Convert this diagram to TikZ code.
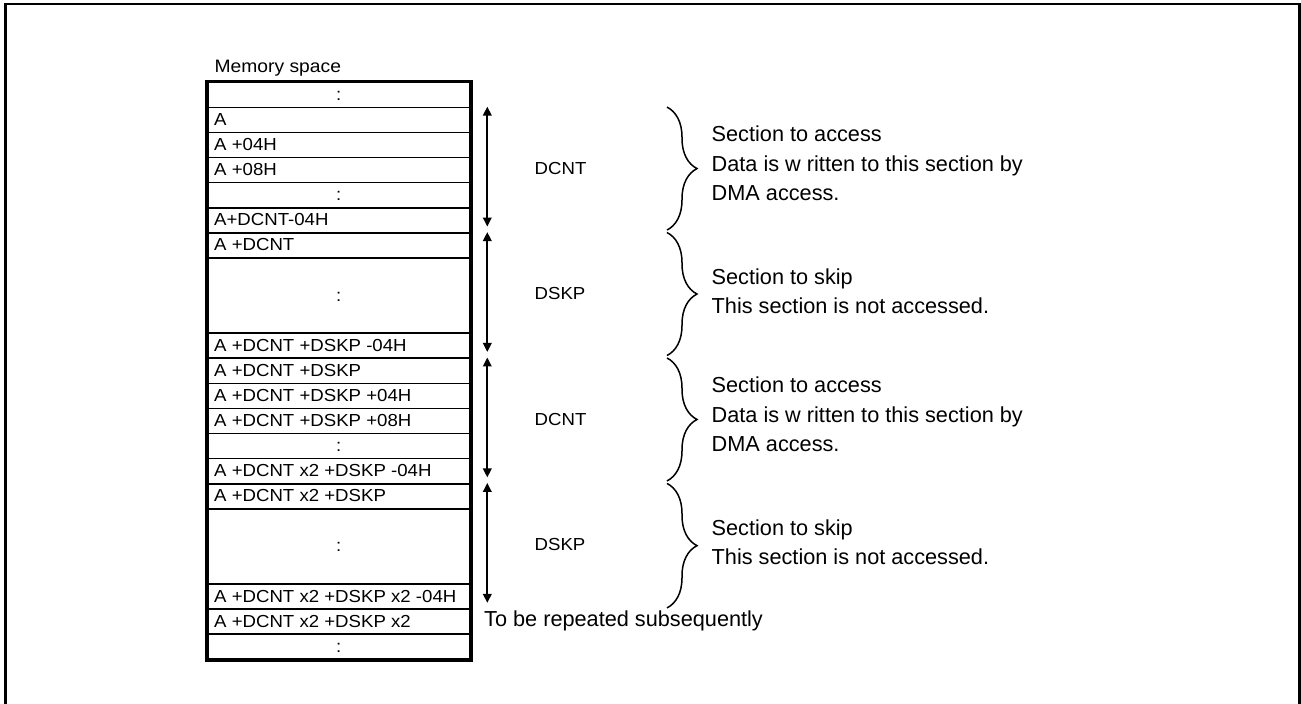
\documentclass[tikz,border=0pt]{standalone}
\usepackage{fontspec}
\setmainfont{Liberation Sans}
\newfontfamily\cellfamily[FakeStretch=1.07]{Liberation Sans}
\newcommand\cellfont{\cellfamily\fontsize{17.4}{20}\selectfont}
\newcommand\memfont{\cellfamily\fontsize{18}{21}\selectfont}
\newcommand\descfont{\fontsize{21.7}{26}\selectfont}
\usetikzlibrary{arrows.meta,decorations.pathreplacing,calc}
\begin{document}
\begin{tikzpicture}[x=1pt,y=-1pt,
  frame/.style={line width=2.3pt},
  cell/.style={draw,line width=1.6pt,minimum width=262pt,minimum height=25.09pt,inner sep=0pt,anchor=north west},
  tallcell/.style={cell,minimum height=75.27pt},
  outer/.style={draw,line width=3.8pt},
  celltext/.style={anchor=base west,inner sep=0pt,font=\cellfont},
  dots/.style={anchor=base,inner sep=0pt,font=\cellfont},
  span/.style={line width=2pt,{Triangle[length=9pt,width=8.5pt]}-{Triangle[length=9pt,width=8.5pt]}},
  sect/.style={line width=1.5pt,decorate,decoration={brace,amplitude=30pt}},
  lbl/.style={anchor=base west,inner sep=0pt,font=\cellfont},
  desc/.style={anchor=base west,inner sep=0pt,font=\descfont}]
\def\u{25.09}
\def\yo{81.5}
\useasboundingbox (0,0) rectangle (1301,704);
% outer frame
\draw[frame] (5.5,704) -- (5.5,4) -- (1299.5,4) -- (1299.5,704);
% title
\node[anchor=base west,inner sep=0pt,font=\memfont] (title) at (214.5,72.7) {Memory space};
% rows
\node[cell] (r0) at (207,{\yo+0*\u}) {};
\node[cell] (r1) at (207,{\yo+1*\u}) {};
\node[cell] (r2) at (207,{\yo+2*\u}) {};
\node[cell] (r3) at (207,{\yo+3*\u}) {};
\node[cell] (r4) at (207,{\yo+4*\u}) {};
\node[cell] (r5) at (207,{\yo+5*\u}) {};
\node[cell] (r6) at (207,{\yo+6*\u}) {};
\node[tallcell] (r7) at (207,{\yo+7*\u}) {};
\node[cell] (r8) at (207,{\yo+10*\u}) {};
\node[cell] (r9) at (207,{\yo+11*\u}) {};
\node[cell] (r10) at (207,{\yo+12*\u}) {};
\node[cell] (r11) at (207,{\yo+13*\u}) {};
\node[cell] (r12) at (207,{\yo+14*\u}) {};
\node[cell] (r13) at (207,{\yo+15*\u}) {};
\node[cell] (r14) at (207,{\yo+16*\u}) {};
\node[tallcell] (r15) at (207,{\yo+17*\u}) {};
\node[cell] (r16) at (207,{\yo+20*\u}) {};
\node[cell] (r17) at (207,{\yo+21*\u}) {};
\node[cell] (r18) at (207,{\yo+22*\u}) {};
\draw[outer] (r0.north west) rectangle (r18.south east);
% row texts
\node[dots] (t0) at ($(r0.center)+(0,5.5)$) {:};
\node[celltext] (t1) at ($(r1.west)+(7,5.5)$) {A};
\node[celltext] (t2) at ($(r2.west)+(7,5.5)$) {A +04H};
\node[celltext] (t3) at ($(r3.west)+(7,5.5)$) {A +08H};
\node[dots] (t4) at ($(r4.center)+(0,5.5)$) {:};
\node[celltext] (t5) at ($(r5.west)+(7,5.5)$) {A+DCNT-04H};
\node[celltext] (t6) at ($(r6.west)+(7,5.5)$) {A +DCNT};
\node[dots] (t7) at ($(r7.center)+(0,5.5)$) {:};
\node[celltext] (t8) at ($(r8.west)+(7,5.5)$) {A +DCNT +DSKP -04H};
\node[celltext] (t9) at ($(r9.west)+(7,5.5)$) {A +DCNT +DSKP};
\node[celltext] (t10) at ($(r10.west)+(7,5.5)$) {A +DCNT +DSKP +04H};
\node[celltext] (t11) at ($(r11.west)+(7,5.5)$) {A +DCNT +DSKP +08H};
\node[dots] (t12) at ($(r12.center)+(0,5.5)$) {:};
\node[celltext] (t13) at ($(r13.west)+(7,5.5)$) {A +DCNT x2 +DSKP -04H};
\node[celltext] (t14) at ($(r14.west)+(7,5.5)$) {A +DCNT x2 +DSKP};
\node[dots] (t15) at ($(r15.center)+(0,5.5)$) {:};
\node[celltext] (t16) at ($(r16.west)+(7,5.5)$) {A +DCNT x2 +DSKP x2 -04H};
\node[celltext] (t17) at ($(r17.west)+(7,5.5)$) {A +DCNT x2 +DSKP x2};
\node[dots] (t18) at ($(r18.center)+(0,5.5)$) {:};
% span arrows
\coordinate (a1t) at (487.3,{\yo+1*\u});
\coordinate (a1b) at (487.3,{\yo+6*\u-5.5});
\coordinate (a2t) at (487.3,{\yo+6*\u});
\coordinate (a2b) at (487.3,{\yo+11*\u-5.5});
\coordinate (a3t) at (487.3,{\yo+11*\u});
\coordinate (a3b) at (487.3,{\yo+16*\u-5.5});
\coordinate (a4t) at (487.3,{\yo+16*\u});
\coordinate (a4b) at (487.3,{\yo+21*\u-5.5});
\draw[span] (a1t) -- (a1b);
\draw[span] (a2t) -- (a2b);
\draw[span] (a3t) -- (a3b);
\draw[span] (a4t) -- (a4b);
% span labels
\node[lbl] (l1) at (534.5,{\yo+3.5*\u+5}) {DCNT};
\node[lbl] (l2) at (534.5,{\yo+8.5*\u+5}) {DSKP};
\node[lbl] (l3) at (534.5,{\yo+13.5*\u+5}) {DCNT};
\node[lbl] (l4) at (534.5,{\yo+18.5*\u+5}) {DSKP};
% braces
\coordinate (b1t) at (667,{\yo+1*\u+0.5});
\coordinate (b1b) at (667,{\yo+6*\u-2});
\coordinate (b2t) at (667,{\yo+6*\u+0.5});
\coordinate (b2b) at (667,{\yo+11*\u-2});
\coordinate (b3t) at (667,{\yo+11*\u+0.5});
\coordinate (b3b) at (667,{\yo+16*\u-2});
\coordinate (b4t) at (667,{\yo+16*\u+0.5});
\coordinate (b4b) at (667,{\yo+21*\u-0.5});
\draw[sect] (b1t) -- (b1b);
\draw[sect] (b2t) -- (b2b);
\draw[sect] (b3t) -- (b3b);
\draw[sect] (b4t) -- (b4b);
% descriptions
\node[desc] (d1a) at (711.5,{\yo+3.5*\u-28}) {Section to access};
\node[desc] (d1b) at (711.5,{\yo+3.5*\u+2}) {Data is w ritten to this section by};
\node[desc] (d1c) at (711.5,{\yo+3.5*\u+31.5}) {DMA access.};
\node[desc] (d2a) at (711.5,{\yo+8.5*\u-10.5}) {Section to skip};
\node[desc] (d2b) at (711.5,{\yo+8.5*\u+18.8}) {This section is not accessed.};
\node[desc] (d3a) at (711.5,{\yo+13.5*\u-28}) {Section to access};
\node[desc] (d3b) at (711.5,{\yo+13.5*\u+2}) {Data is w ritten to this section by};
\node[desc] (d3c) at (711.5,{\yo+13.5*\u+31.5}) {DMA access.};
\node[desc] (d4a) at (711.5,{\yo+18.5*\u-10.5}) {Section to skip};
\node[desc] (d4b) at (711.5,{\yo+18.5*\u+18.8}) {This section is not accessed.};
\node[desc] (rep) at (484,626.7) {To be repeated subsequently};
\end{tikzpicture}
\end{document}
